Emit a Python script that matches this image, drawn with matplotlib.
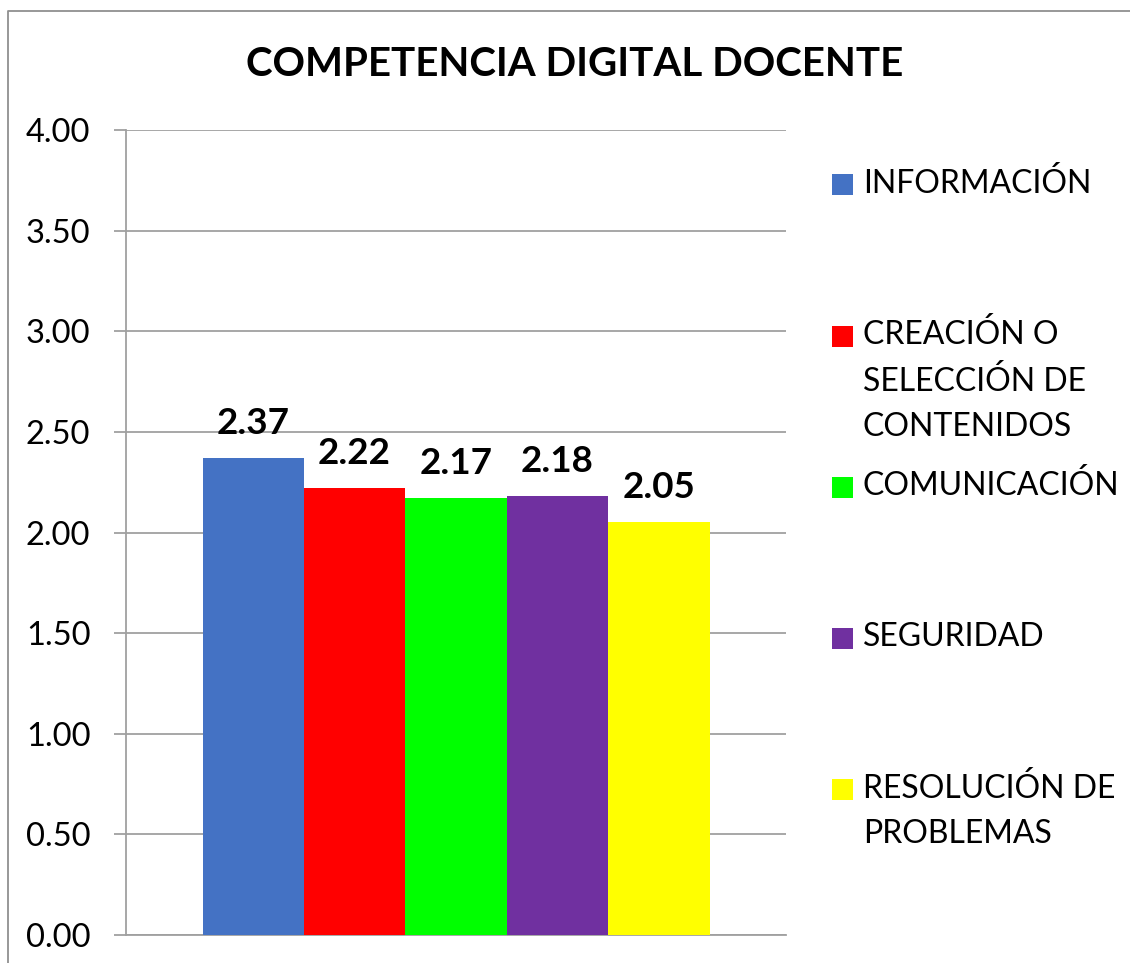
# Competencia digital docente - barras agrupadas en una sola categoría

from matplotlib import pyplot as plt
from matplotlib.patches import Rectangle
from matplotlib.lines import Line2D
import numpy as np

plt.rcParams['font.family'] = ['Lato', 'DejaVu Sans']

title = 'COMPETENCIA DIGITAL DOCENTE'
series = ['INFORMACIÓN', 'CREACIÓN O\nSELECCIÓN DE\nCONTENIDOS', 'COMUNICACIÓN',
          'SEGURIDAD', 'RESOLUCIÓN DE\nPROBLEMAS']
values = [2.37, 2.22, 2.17, 2.18, 2.05]
colors = ['#4472C4', '#FF0000', '#00FF00', '#7030A0', '#FFFF00']
yticks = [0.0, 0.5, 1.0, 1.5, 2.0, 2.5, 3.0, 3.5, 4.0]

W, H = 1130, 963
fig = plt.figure(figsize=(W / 100, H / 100), dpi=100)
ax = fig.add_axes([126 / W, (H - 935) / H, 660 / W, 805 / H])

n = len(values)
bw = 507 / 660 / n
xs = 0.5 - bw * n / 2 + bw * (np.arange(n) + 0.5)
ax.bar(xs, values, width=bw, color=colors, zorder=3)
for x, v in zip(xs, values):
    ax.annotate(f'{v:.2f}', (x, v), xytext=(0, 13), textcoords='offset points',
                ha='center', va='bottom', fontsize=26.5, fontweight='bold')

ax.set_xlim(0, 1)
ax.set_ylim(0, 4)
ax.set_yticks(yticks)
ax.set_yticklabels([f'{t:.2f}' for t in yticks], fontsize=23.5)
ax.set_xticks([])
ax.tick_params(axis='y', length=8.6, width=1.3, color='#a0a0a0', pad=17)
ax.grid(axis='y', color='#a0a0a0', linewidth=1.3, zorder=0)
for s in ['top', 'right']:
    ax.spines[s].set_visible(False)
for s in ['left', 'bottom']:
    ax.spines[s].set_color('#a0a0a0')
    ax.spines[s].set_linewidth(1.3)

fig.text(575 / W, 1 - 65 / H, title, ha='center', va='center',
         fontsize=29, fontweight='bold')

# leyenda
for i, (name, c) in enumerate(zip(series, colors)):
    yc = 185 + i * 151.2
    fig.patches.append(Rectangle((832 / W, 1 - (yc + 10.5) / H), 21 / W, 21 / H,
                                 facecolor=c, transform=fig.transFigure))
    fig.text(863 / W, 1 - (yc - 17) / H, name, ha='left', va='top',
             fontsize=23, linespacing=1.62)

# marco del gráfico
fig.lines.append(Line2D([8 / W, 8 / W, 1], [0, 1 - 11 / H, 1 - 11 / H],
                        color='#909090', linewidth=1.3, transform=fig.transFigure))

fig.savefig('out.png', dpi=100)
